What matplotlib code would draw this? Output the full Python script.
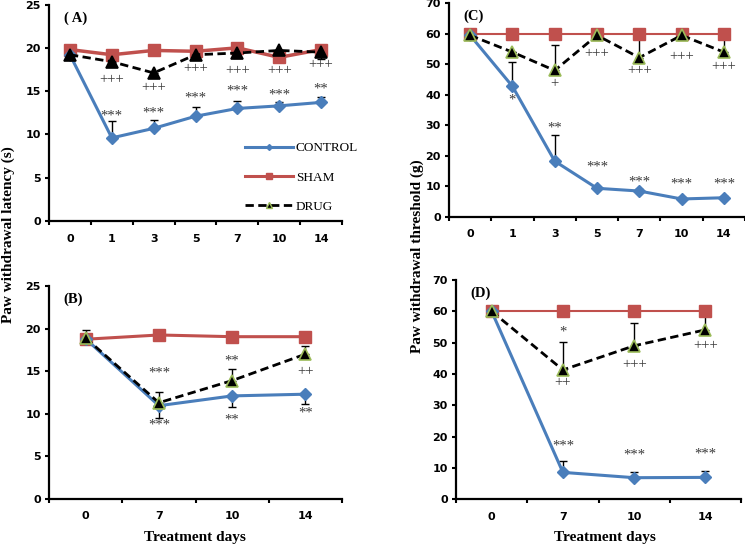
import numpy as np
import matplotlib
matplotlib.use("Agg")
import matplotlib.pyplot as plt
from matplotlib.lines import Line2D

# ---- data ----
days_ac = ["0", "1", "3", "5", "7", "10", "14"]
days_bd = ["0", "7", "10", "14"]

# (A) latency, days 0-14
a_control = [19.2, 9.6, 10.7, 12.1, 13.0, 13.3, 13.7]
a_control_up = [0, 2.0, 1.0, 1.1, 0.9, 0.5, 0.6]
a_sham = [19.8, 19.2, 19.7, 19.6, 20.0, 18.9, 19.8]
a_drug = [19.2, 18.4, 17.1, 19.2, 19.4, 19.7, 19.5]
a_drug_dn = [0.3, 0.3, 0.3, 0.3, 0.6, 0.3, 0.8]

# (B) latency, days 0/7/10/14
b_control = [18.8, 10.95, 12.1, 12.3]
b_control_dn = [0, 1.45, 1.3, 1.2]
b_sham = [18.75, 19.25, 19.05, 19.05]
b_drug = [18.9, 11.3, 13.9, 17.0]
b_drug_up = [0.9, 1.2, 1.3, 0.95]

# (C) threshold, days 0-14
c_control = [59.5, 42.8, 18.3, 9.4, 8.5, 5.9, 6.3]
c_control_up = [0, 8.0, 8.5, 0.5, 0.7, 0.5, 0.5]
c_sham = [60, 60, 60, 60, 60, 60, 60]
c_drug = [59.5, 54.0, 48.0, 59.5, 52.2, 59.5, 54.0]
c_drug_up = [0, 0, 8.2, 0, 7.8, 0, 6.0]

# (D) threshold, days 0/7/10/14
d_control = [60, 8.6, 6.9, 7.0]
d_control_up = [0, 3.7, 1.9, 2.1]
d_sham = [60, 60, 60, 60]
d_drug = [60, 41.3, 49.0, 54.1]
d_drug_up = [0, 8.9, 7.2, 5.9]

# significance marks: (category index, y value, text)
a_marks = [(1, 12.1, "***"), (2, 12.5, "***"), (3, 14.2, "***"), (4, 15.0, "***"),
           (5, 14.5, "***"), (6, 15.2, "**"),
           (1, 16.3, "+++"), (2, 15.4, "+++"), (3, 17.6, "+++"), (4, 17.4, "+++"),
           (5, 17.4, "+++"), (6, 18.1, "+++")]
b_marks = [(1, 14.8, "***"), (1, 8.7, "***"), (2, 16.2, "**"), (2, 9.3, "**"),
           (3, 14.9, "++"), (3, 10.1, "**")]
c_marks = [(1, 38.2, "*"), (2, 29.2, "**"), (3, 16.3, "***"), (4, 11.5, "***"),
           (5, 10.8, "***"), (6, 10.8, "***"),
           (2, 43.8, "+"), (3, 53.6, "+++"), (4, 48.0, "+++"), (5, 52.4, "+++"), (6, 49.3, "+++")]
d_marks = [(1, 53.5, "*"), (1, 37.1, "++"), (2, 42.9, "+++"), (3, 49.0, "+++"),
           (1, 17.0, "***"), (2, 14.2, "***"), (3, 14.5, "***")]

BLUE = "#4A7EBB"
RED = "#C0504D"
GREEN = "#9BBB59"
SERIF = "Liberation Serif"

fig = plt.figure(figsize=(7.45, 5.46), dpi=100)

ax_a = fig.add_axes([0.0658, 0.5952, 0.3933, 0.3965])
ax_b = fig.add_axes([0.0658, 0.0861, 0.3933, 0.3901])
ax_c = fig.add_axes([0.6027, 0.6026, 0.3973, 0.3914])
ax_d = fig.add_axes([0.6121, 0.0855, 0.3826, 0.4017])


def draw_panel(ax, labels, control, sham, drug, ctrl_err, drug_err, ymax, ystep,
               xright, tag, marks, red_lw, tri_edge):
    x = np.arange(len(labels))
    # error bars (one-sided)
    ax.errorbar(x, control, yerr=ctrl_err, fmt="none", ecolor="black",
                elinewidth=1, capsize=3, capthick=1, zorder=1)
    ax.errorbar(x, drug, yerr=drug_err, fmt="none", ecolor="black",
                elinewidth=1, capsize=3, capthick=1, zorder=1)
    ax.plot(x, control, color=BLUE, lw=2.2, marker="D", ms=6.5,
            mfc=BLUE, mec=BLUE, zorder=3)
    ax.plot(x, sham, color=RED, lw=red_lw, marker="s", ms=8.5,
            mfc=RED, mec=RED, zorder=2)
    ax.plot(x, drug, color="black", lw=2, ls=(0, (3, 1.6)), marker="^", ms=8,
            mfc="black", mec=tri_edge, mew=1.2, zorder=4)

    for i, y, t in marks:
        ax.text(i, y, t, ha="center", va="center", fontsize=10.5, family=SERIF,
                color="#3a3a3a", zorder=5)

    ax.set_xlim(-0.5, xright)
    ax.set_ylim(0, ymax)
    ax.set_yticks(np.arange(0, ymax + 1, ystep))
    ax.set_xticks(x)
    ax.set_xticklabels(labels)
    ax.set_xticks(np.arange(-0.5, len(labels)), minor=True)
    ax.tick_params(axis="x", which="major", length=0, pad=9)
    ax.tick_params(axis="x", which="minor", length=3, width=1.5, direction="out")
    ax.tick_params(axis="y", length=3, width=1.5, direction="out", pad=3)
    for lab in ax.get_xticklabels() + ax.get_yticklabels():
        lab.set_fontsize(8)
        lab.set_fontweight("bold")
    for s in ["top", "right"]:
        ax.spines[s].set_visible(False)
    for s in ["left", "bottom"]:
        ax.spines[s].set_linewidth(1.6)
    ax.text(0.05, 0.97, tag, transform=ax.transAxes, ha="left", va="top",
            fontsize=10.5, fontweight="bold", family=SERIF)


draw_panel(ax_a, days_ac, a_control, a_sham, a_drug,
           [[0] * 7, a_control_up], [a_drug_dn, [0] * 7], 25, 5, 6.31, "( A)",
           a_marks, 2.5, "black")
draw_panel(ax_b, days_bd, b_control, b_sham, b_drug,
           [b_control_dn, [0] * 4], [[0] * 4, b_drug_up], 25, 5, 3.07, "(B)",
           b_marks, 2.2, GREEN)
draw_panel(ax_c, days_ac, c_control, c_sham, c_drug,
           [[0] * 7, c_control_up], [[0] * 7, c_drug_up], 70, 10, 6.34, "(C)",
           c_marks, 1.5, GREEN)
draw_panel(ax_d, days_bd, d_control, d_sham, d_drug,
           [[0] * 4, d_control_up], [[0] * 4, d_drug_up], 70, 10, 3.23, "(D)",
           d_marks, 1.5, GREEN)

# legend in panel A
handles = [
    Line2D([], [], color=BLUE, lw=2.2, marker="D", ms=3, mfc=BLUE, mec=BLUE),
    Line2D([], [], color=RED, lw=2.2, marker="s", ms=5, mfc=RED, mec=RED),
    Line2D([], [], color="black", lw=2, ls=(0, (3, 1.6)), marker="^", ms=4,
           mfc="black", mec=GREEN),
]
ax_a.legend(handles, ["CONTROL", "SHAM", "DRUG"], loc="upper left",
            bbox_to_anchor=(0.63, 0.42), frameon=False, handlelength=3.6,
            handletextpad=0.2, labelspacing=1.3,
            prop={"family": SERIF, "size": 9.5})

# axis titles
fig.text(0.011, 0.57, "Paw withdrawal latency (s)", rotation=90, ha="center",
         va="center", fontsize=11, fontweight="bold", family=SERIF)
fig.text(0.56, 0.53, "Paw withdrawal threshold (g)", rotation=90, ha="center",
         va="center", fontsize=11, fontweight="bold", family=SERIF)
fig.text(0.262, 0.016, "Treatment days", ha="center", va="center",
         fontsize=11, fontweight="bold", family=SERIF)
fig.text(0.812, 0.016, "Treatment days", ha="center", va="center",
         fontsize=11, fontweight="bold", family=SERIF)

fig.savefig("out.png", dpi=100)
